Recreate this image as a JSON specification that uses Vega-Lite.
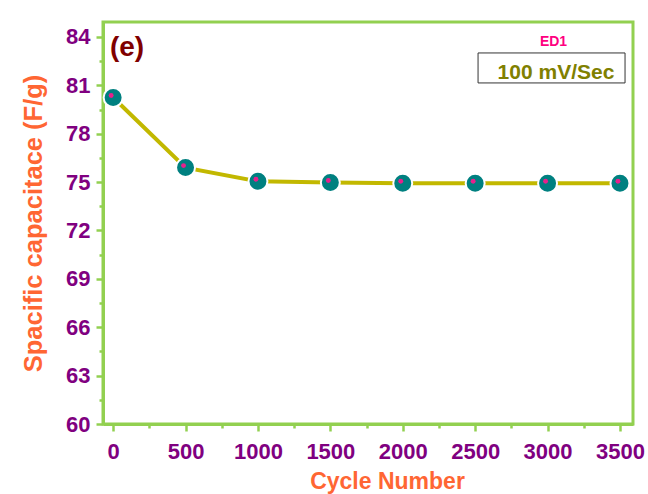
{
  "$schema": "https://vega.github.io/schema/vega-lite/v6.json",
  "autosize": {"type": "none"},
  "width": 530,
  "height": 402,
  "padding": {"left": 103, "top": 22, "right": 15, "bottom": 70},
  "background": "white",
  "config": {
    "view": {"stroke": "#92D050", "strokeWidth": 3},
    "font": "Liberation Sans"
  },
  "resolve": {"axis": {"x": "independent", "y": "independent"}},
  "datasets": {
    "main": [
      {"cycle": 0, "cap": 80.25},
      {"cycle": 500, "cap": 75.9},
      {"cycle": 1000, "cap": 75.05},
      {"cycle": 1500, "cap": 74.98},
      {"cycle": 2000, "cap": 74.93},
      {"cycle": 2500, "cap": 74.93},
      {"cycle": 3000, "cap": 74.93},
      {"cycle": 3500, "cap": 74.93}
    ],
    "box": [
      {"x1": 2520, "x2": 3535, "y1": 83.01, "y2": 81.15}
    ]
  },
  "layer": [
    {
      "data": {"name": "box"},
      "mark": {"type": "rect", "fill": "white", "stroke": "#333333", "strokeWidth": 1},
      "encoding": {
        "x": {
          "field": "x1", "type": "quantitative",
          "scale": {"domain": [-70, 3590], "nice": false, "zero": false},
          "axis": {
            "orient": "bottom", "title": null, "labels": false, "domain": false, "grid": false,
            "values": [250, 750, 1250, 1750, 2250, 2750, 3250],
            "tickColor": "#92D050", "tickWidth": 2.5, "tickSize": 4
          }
        },
        "x2": {"field": "x2"},
        "y": {
          "field": "y1", "type": "quantitative",
          "scale": {"domain": [60, 84.93], "nice": false, "zero": false},
          "axis": {
            "orient": "left", "title": null, "labels": false, "domain": false, "grid": false,
            "values": [61.5, 64.5, 67.5, 70.5, 73.5, 76.5, 79.5, 82.5],
            "tickColor": "#92D050", "tickWidth": 2.5, "tickSize": 4
          }
        },
        "y2": {"field": "y2"}
      }
    },
    {
      "data": {"name": "main"},
      "mark": {"type": "line", "color": "#C2B800", "strokeWidth": 4},
      "encoding": {
        "x": {
          "field": "cycle", "type": "quantitative",
          "axis": {
            "orient": "bottom",
            "title": "Cycle Number",
            "titleX": 284,
            "values": [0, 500, 1000, 1500, 2000, 2500, 3000, 3500],
            "format": "d",
            "labelOverlap": false,
            "grid": false,
            "domainColor": "#92D050", "domainWidth": 3,
            "tickColor": "#92D050", "tickWidth": 2.5, "tickSize": 7,
            "labelColor": "#800080", "labelFont": "Liberation Sans", "labelFontSize": 22, "labelFontWeight": "bold",
            "labelPadding": 10,
            "titleColor": "#FF6633", "titleFont": "Liberation Sans", "titleFontSize": 23, "titleFontWeight": "bold",
            "titlePadding": 8
          }
        },
        "y": {
          "field": "cap", "type": "quantitative",
          "axis": {
            "orient": "left",
            "title": "Spacific capacitace (F/g)",
            "values": [60, 63, 66, 69, 72, 75, 78, 81, 84],
            "labelOverlap": false,
            "grid": false,
            "domainColor": "#92D050", "domainWidth": 3,
            "tickColor": "#92D050", "tickWidth": 2.5, "tickSize": 7,
            "labelColor": "#800080", "labelFont": "Liberation Sans", "labelFontSize": 22, "labelFontWeight": "bold",
            "labelPadding": 6,
            "titleColor": "#FF6633", "titleFont": "Liberation Sans", "titleFontSize": 25.5, "titleFontWeight": "bold",
            "titlePadding": 19
          }
        }
      }
    },
    {
      "data": {"name": "main"},
      "mark": {"type": "point", "filled": true, "shape": "circle", "size": 360, "color": "#008080", "stroke": "white", "strokeWidth": 2, "opacity": 1},
      "encoding": {
        "x": {"field": "cycle", "type": "quantitative", "axis": null},
        "y": {"field": "cap", "type": "quantitative", "axis": null}
      }
    },
    {
      "data": {"name": "main"},
      "mark": {"type": "point", "filled": true, "shape": "circle", "size": 24, "color": "#E8208C", "opacity": 1, "xOffset": -2, "yOffset": -2},
      "encoding": {
        "x": {"field": "cycle", "type": "quantitative", "axis": null},
        "y": {"field": "cap", "type": "quantitative", "axis": null}
      }
    },
    {
      "data": {"values": [{"x": -22, "y": 83.32, "t": "(e)"}]},
      "mark": {"type": "text", "font": "Liberation Sans", "fontWeight": "bold", "baseline": "middle", "align": "left", "fontSize": 28, "color": "#800000"},
      "encoding": {
        "x": {"field": "x", "type": "quantitative", "axis": null},
        "y": {"field": "y", "type": "quantitative", "axis": null},
        "text": {"field": "t"}
      }
    },
    {
      "data": {"values": [{"x": 3041, "y": 83.71, "t": "ED1"}]},
      "mark": {"type": "text", "font": "Liberation Sans", "fontWeight": "bold", "baseline": "middle", "align": "center", "fontSize": 14, "color": "#FF0080"},
      "encoding": {
        "x": {"field": "x", "type": "quantitative", "axis": null},
        "y": {"field": "y", "type": "quantitative", "axis": null},
        "text": {"field": "t"}
      }
    },
    {
      "data": {"values": [{"x": 3058, "y": 81.77, "t": "100 mV/Sec"}]},
      "mark": {"type": "text", "font": "Liberation Sans", "fontWeight": "bold", "baseline": "middle", "align": "center", "fontSize": 21, "color": "#808000"},
      "encoding": {
        "x": {"field": "x", "type": "quantitative", "axis": null},
        "y": {"field": "y", "type": "quantitative", "axis": null},
        "text": {"field": "t"}
      }
    }
  ]
}
